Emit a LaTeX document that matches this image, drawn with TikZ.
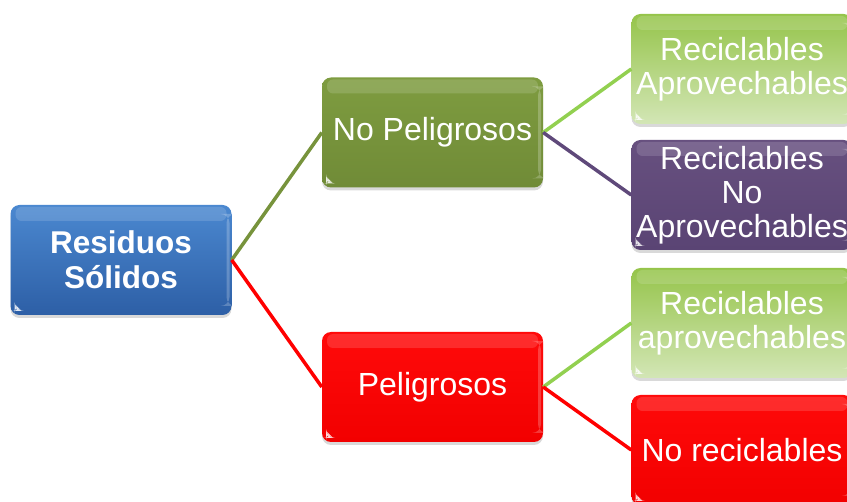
\documentclass[tikz,border=0pt]{standalone}
\usepackage{fontspec}
\setmainfont{Liberation Sans}
\usetikzlibrary{shadows}

\definecolor{blueTop}{HTML}{4B88D0}
\definecolor{blueBot}{HTML}{2D5FA6}
\definecolor{oliveTop}{HTML}{7E9C40}
\definecolor{oliveBot}{HTML}{708B37}
\definecolor{olive}{HTML}{77933C}
\definecolor{lgTop}{HTML}{95C44A}
\definecolor{lgBot}{HTML}{D3E6B6}
\definecolor{lgreen}{HTML}{92D050}
\definecolor{purpTop}{HTML}{67507F}
\definecolor{purpBot}{HTML}{5A4474}
\definecolor{purp}{HTML}{5F497A}
\definecolor{redTop}{HTML}{FF0A0A}
\definecolor{redBot}{HTML}{F20000}

\begin{document}
\begin{tikzpicture}[x=1pt,y=-1pt,
  box/.style={rounded corners=9pt, minimum width=221pt, minimum height=110pt,
    inner sep=0pt, text=white, align=center,
    font=\fontsize{32}{34}\selectfont,
    drop shadow={opacity=0.3, shadow xshift=0pt, shadow yshift=-3pt},
    path picture={
      \fill[white,opacity=0.14,rounded corners=6pt]
        ([xshift=5pt,yshift=-2pt]path picture bounding box.north west) rectangle
        ([xshift=-5pt,yshift=-16pt]path picture bounding box.north east);
      \fill[white,opacity=0.22]
        ([xshift=-5pt,yshift=-9pt]path picture bounding box.north east) rectangle
        ([xshift=-2pt,yshift=9pt]path picture bounding box.south east);
      \fill[white,opacity=0.85]
        ([xshift=4pt,yshift=4pt]path picture bounding box.south west) -- ++(7pt,0pt) -- ++(-7pt,7pt) -- cycle;
    }},
  link/.style={line width=3.5pt},
  bluebox/.style={box, top color=blueTop, bottom color=blueBot},
  olivebox/.style={box, top color=oliveTop, bottom color=oliveBot},
  redbox/.style={box, top color=redTop, bottom color=redBot},
  greenbox/.style={box, top color=lgTop, bottom color=lgBot},
  purplebox/.style={box, top color=purpTop, bottom color=purpBot}
]
\clip (0,0) rectangle (847,502);
\useasboundingbox (0,0) rectangle (847,502);

% root
\node[bluebox, font=\fontsize{31.5}{35}\selectfont\bfseries] (root) at (121,260) {Residuos\\Sólidos};

% second level
\node[olivebox] (nop) at (432.5,132.5) {No Peligrosos};
\node[redbox] (pel) at (432.5,387) {Peligrosos};

% third level
\node[greenbox] (ra) at (742,69) {Reciclables\\Aprovechables};
\node[purplebox] (rna) at (742,195) {Reciclables\\No\\Aprovechables};
\node[greenbox] (ra2) at (742,323) {Reciclables\\aprovechables};
\node[redbox] (nr) at (742,450) {No reciclables};

% connectors
\draw[link, olive] (root.east) -- (nop.west);
\draw[link, red] (root.east) -- (pel.west);
\draw[link, lgreen] (nop.east) -- (ra.west);
\draw[link, purp] (nop.east) -- (rna.west);
\draw[link, lgreen] (pel.east) -- (ra2.west);
\draw[link, red] (pel.east) -- (nr.west);
\end{tikzpicture}
\end{document}
